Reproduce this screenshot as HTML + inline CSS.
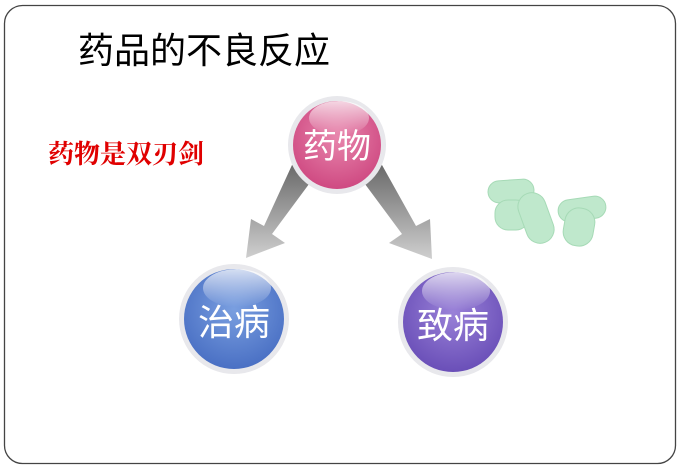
<!DOCTYPE html>
<html><head><meta charset="utf-8"><style>
body{margin:0;width:680px;height:469px;background:#fff;overflow:hidden;font-family:"Liberation Sans","Noto Sans CJK SC",sans-serif}
</style></head><body>
<svg width="680" height="469" viewBox="0 0 680 469" xmlns="http://www.w3.org/2000/svg">
<defs>
<radialGradient id="pk" cx="50%" cy="40%" r="60%"><stop offset="0" stop-color="#e886ad"/><stop offset="1" stop-color="#cf4a82"/></radialGradient>
<radialGradient id="bl" cx="50%" cy="40%" r="60%"><stop offset="0" stop-color="#7a9fe0"/><stop offset="1" stop-color="#4a70c4"/></radialGradient>
<radialGradient id="pu" cx="50%" cy="40%" r="60%"><stop offset="0" stop-color="#9a82d8"/><stop offset="1" stop-color="#6a4fb8"/></radialGradient>
<linearGradient id="hl" x1="0" y1="0" x2="0" y2="1"><stop offset="0" stop-color="#fff" stop-opacity=".75"/><stop offset="1" stop-color="#fff" stop-opacity="0"/></linearGradient>
<linearGradient id="ag" x1="0" y1="0" x2="0" y2="1"><stop offset="0" stop-color="#6a6a6a"/><stop offset="1" stop-color="#cfcfcf"/></linearGradient>
</defs>
<rect x="4.5" y="5.5" width="671" height="458" rx="18" fill="#fff" stroke="#444" stroke-width="1.3"/>
<text x="78" y="63" font-size="36" fill="#000" font-family="Liberation Sans,Noto Sans CJK SC,sans-serif">药品的不良反应</text>
<text x="48" y="163" font-size="26" font-weight="bold" fill="#e00000" font-family="Liberation Serif,Noto Serif CJK SC,serif">药物是双刃剑</text>
<polygon points="292,165 312,180 272,234 285,243 246,258 251,219 264,226" fill="url(#ag)"/>
<polygon points="382,165 362,180 402,234 389,243 432,259 430,219 416,226" fill="url(#ag)"/>
<circle cx="337" cy="145" r="49" fill="#e8e8ec"/>
<circle cx="337" cy="145" r="44" fill="url(#pk)"/>
<ellipse cx="339" cy="118" rx="30" ry="17" fill="url(#hl)"/>
<text x="337" y="158" font-size="34" fill="#fff" text-anchor="middle" font-family="Liberation Sans,Noto Sans CJK SC,sans-serif">药物</text>
<circle cx="234" cy="319" r="55" fill="#e8e8ec"/>
<circle cx="234" cy="319" r="50" fill="url(#bl)"/>
<ellipse cx="237" cy="288" rx="34" ry="19" fill="url(#hl)"/>
<text x="234" y="335" font-size="36" fill="#fff" text-anchor="middle" font-family="Liberation Sans,Noto Sans CJK SC,sans-serif">治病</text>
<circle cx="453" cy="322" r="55" fill="#e8e8ec"/>
<circle cx="453" cy="322" r="50" fill="url(#pu)"/>
<ellipse cx="456" cy="291" rx="34" ry="19" fill="url(#hl)"/>
<text x="453" y="338" font-size="36" fill="#fff" text-anchor="middle" font-family="Liberation Sans,Noto Sans CJK SC,sans-serif">致病</text>
<g fill="#bfe8cc" stroke="#a6dab6" stroke-width="1">
<rect x="488" y="180" width="46" height="22" rx="11" transform="rotate(-4 511 191)"/>
<rect x="495" y="200" width="34" height="30" rx="13"/>
<rect x="522" y="192" width="28" height="52" rx="14" transform="rotate(-20 536 218)"/>
<rect x="558" y="198" width="48" height="22" rx="11" transform="rotate(-8 582 209)"/>
<rect x="564" y="208" width="30" height="38" rx="14" transform="rotate(10 579 227)"/>
</g>
</svg>
</body></html>
